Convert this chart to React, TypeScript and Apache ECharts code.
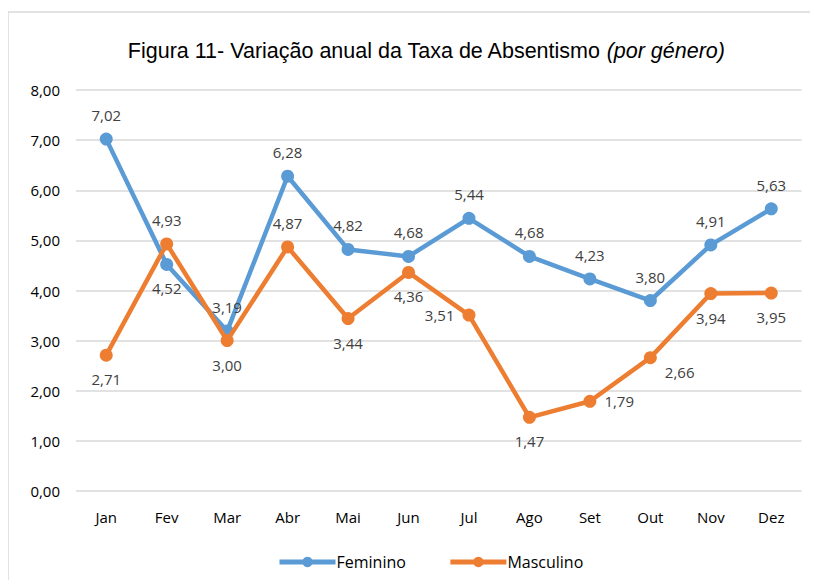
import React, { useEffect, useRef } from "react";
import * as echarts from "echarts";

const months = ["Jan", "Fev", "Mar", "Abr", "Mai", "Jun", "Jul", "Ago", "Set", "Out", "Nov", "Dez"];
const feminino = [7.02, 4.52, 3.19, 6.28, 4.82, 4.68, 5.44, 4.68, 4.23, 3.8, 4.91, 5.63];
const masculino = [2.71, 4.93, 3.0, 4.87, 3.44, 4.36, 3.51, 1.47, 1.79, 2.66, 3.94, 3.95];
const femPos = ["top", "bottom", "top", "top", "top", "top", "top", "top", "top", "top", "top", "top"];
const mascPos = ["bottom", "top", "bottom", "top", "bottom", "bottom", "left", "bottom", "right", "right", "bottom", "bottom"];

const fmt = (v: number) => v.toFixed(2).replace(".", ",");
const FONT = "'Open Sans', 'Noto Sans', sans-serif";

export default function App() {
  const ref = useRef<HTMLDivElement>(null);
  useEffect(() => {
    const chart = echarts.init(ref.current!, null, { renderer: "svg" });
    const mk = (vals: number[], pos: string[]) =>
      vals.map((v, i) => ({
        value: v,
        label: {
          position: pos[i] as any,
          distance: pos[i] === "left" || pos[i] === "right" ? 8 : 10,
          offset: pos[i] === "right" && i === 9 ? [0, 14] : [0, 0],
        },
      }));
    chart.setOption({
      animation: false,
      backgroundColor: "#ffffff",
      graphic: [
        {
          type: "rect",
          shape: { x: 0, y: 4, width: 830, height: 600 },
          style: { fill: "none", stroke: "#d9d9d9", lineWidth: 1.5 },
          silent: true,
        },
      ],
      title: {
        text: "Figura 11- Variação anual da Taxa de Absentismo {i|(por género)}",
        left: 413,
        top: 27,
        textAlign: "center",
        textStyle: {
          fontFamily: "'Liberation Sans', Arial, sans-serif",
          fontSize: 21.5,
          fontWeight: "normal",
          color: "#000000",
          rich: {
            i: { fontFamily: "'Liberation Sans', Arial, sans-serif", fontSize: 21.5, fontStyle: "italic", color: "#000000" },
          },
        },
      },
      legend: {
        bottom: 5,
        left: 264,
        itemWidth: 56,
        itemHeight: 13,
        itemGap: 42,
        lineStyle: { width: 5 },
        textStyle: { fontFamily: FONT, fontSize: 16, color: "#000000", padding: [0, 0, 0, -4] },
        data: ["Feminino", "Masculino"],
      },
      grid: { left: 68, right: 8.5, top: 82, bottom: 89 },
      xAxis: {
        type: "category",
        data: months,
        boundaryGap: true,
        axisLine: { show: false },
        axisTick: { show: false },
        axisLabel: { fontFamily: FONT, fontSize: 15, color: "#000000", margin: 18 },
      },
      yAxis: {
        type: "value",
        min: 0,
        max: 8,
        interval: 1,
        axisLine: { show: false },
        axisTick: { show: false },
        splitLine: { lineStyle: { color: "#d9d9d9", width: 1.5 } },
        axisLabel: { fontFamily: FONT, fontSize: 15, color: "#000000", margin: 16, formatter: (v: number) => fmt(v) },
      },
      series: [
        {
          name: "Feminino",
          type: "line",
          data: mk(feminino, femPos),
          color: "#5B9BD5",
          lineStyle: { width: 4.5, color: "#5B9BD5" },
          symbol: "circle",
          symbolSize: 13,
          itemStyle: { color: "#5B9BD5" },
          label: {
            show: true,
            fontFamily: FONT,
            fontSize: 15,
            color: "#404040",
            formatter: (p: any) => fmt(p.value),
          },
          z: 2,
        },
        {
          name: "Masculino",
          type: "line",
          data: mk(masculino, mascPos),
          color: "#ED7D31",
          lineStyle: { width: 4.5, color: "#ED7D31" },
          symbol: "circle",
          symbolSize: 13,
          itemStyle: { color: "#ED7D31" },
          label: {
            show: true,
            fontFamily: FONT,
            fontSize: 15,
            color: "#404040",
            formatter: (p: any) => fmt(p.value),
          },
          z: 3,
        },
      ],
    });
    return () => chart.dispose();
  }, []);
  return <div ref={ref} style={{ width: 802, height: 572 }} />;
}
